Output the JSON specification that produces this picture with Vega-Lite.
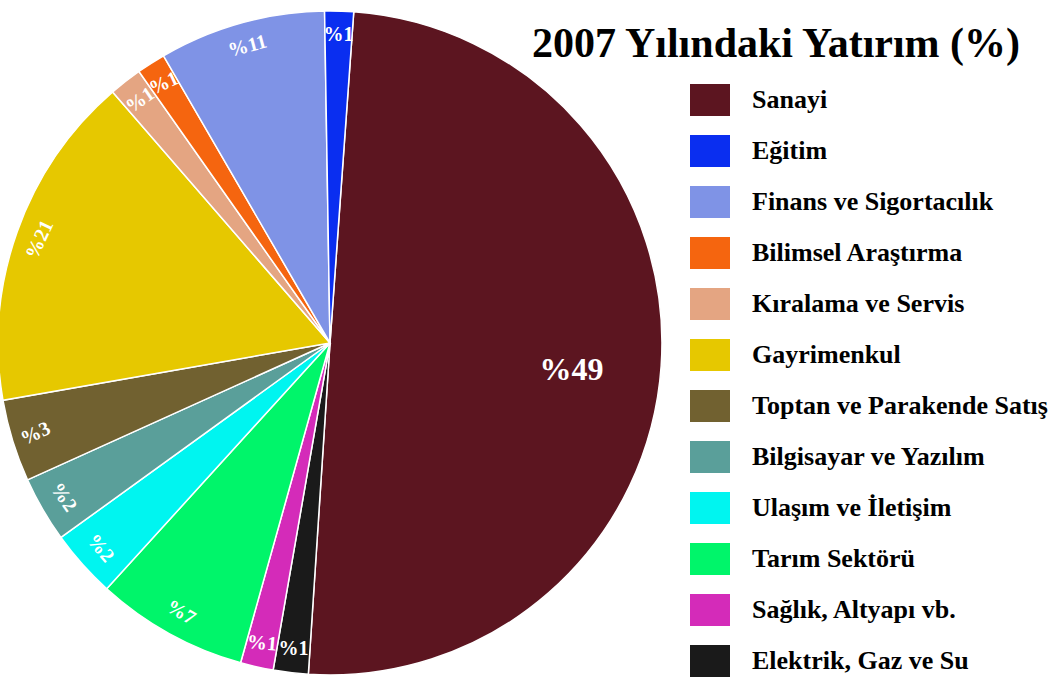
{
  "$schema": "https://vega.github.io/schema/vega-lite/v6.json",
  "width": 660,
  "height": 686,
  "autosize": {"type": "none"},
  "padding": {"left": 0, "top": 0, "right": 392, "bottom": 0},
  "background": "white",
  "view": {"stroke": null},
  "title": {
    "text": "2007 Yılındaki Yatırım (%)",
    "anchor": "start",
    "frame": "group",
    "orient": "top",
    "offset": 0,
    "dx": 532,
    "dy": 99,
    "baseline": "alphabetic",
    "font": "Liberation Serif",
    "fontSize": 42,
    "fontWeight": "bold",
    "color": "#000000"
  },
  "data": {
    "values": [
      {"sektor": "Sanayi", "pay": 49.9, "etiket": "%49", "sira": 1},
      {"sektor": "Elektrik, Gaz ve Su", "pay": 1.7, "etiket": "%1", "sira": 2},
      {"sektor": "Sağlık, Altyapı vb.", "pay": 1.6, "etiket": "%1", "sira": 3},
      {"sektor": "Tarım Sektörü", "pay": 7.4, "etiket": "%7", "sira": 4},
      {"sektor": "Ulaşım ve İletişim", "pay": 3.3, "etiket": "%2", "sira": 5},
      {"sektor": "Bilgisayar ve Yazılım", "pay": 3.2, "etiket": "%2", "sira": 6},
      {"sektor": "Toptan ve Parakende Satış", "pay": 4.0, "etiket": "%3", "sira": 7},
      {"sektor": "Gayrimenkul", "pay": 16.4, "etiket": "%21", "sira": 8},
      {"sektor": "Kıralama ve Servis", "pay": 1.6, "etiket": "%1", "sira": 9},
      {"sektor": "Bilimsel Araştırma", "pay": 1.4, "etiket": "%1", "sira": 10},
      {"sektor": "Finans ve Sigortacılık", "pay": 8.1, "etiket": "%11", "sira": 11},
      {"sektor": "Eğitim", "pay": 1.4, "etiket": "%1", "sira": 12}
    ]
  },
  "encoding": {
    "theta": {"field": "pay", "type": "quantitative", "stack": true, "scale": {"range": [0.0716, 6.3548]}},
    "order": {"field": "sira", "type": "quantitative"}
  },
  "layer": [
    {
      "mark": {"type": "arc", "outerRadius": 332, "stroke": "white", "strokeWidth": 1.5},
      "encoding": {
        "color": {
          "field": "sektor",
          "type": "nominal",
          "scale": {
            "domain": ["Sanayi", "Eğitim", "Finans ve Sigortacılık", "Bilimsel Araştırma", "Kıralama ve Servis", "Gayrimenkul", "Toptan ve Parakende Satış", "Bilgisayar ve Yazılım", "Ulaşım ve İletişim", "Tarım Sektörü", "Sağlık, Altyapı vb.", "Elektrik, Gaz ve Su"],
            "range": ["#5c1520", "#0a2ef0", "#7f93e6", "#f5650f", "#e4a582", "#e6c800", "#716130", "#5a9f9a", "#00f5f0", "#00f56a", "#d42bb9", "#1a1a1a"]
          },
          "legend": {
            "orient": "none",
            "legendX": 690,
            "legendY": 80,
            "title": null,
            "padding": 0,
            "symbolType": "M-1,-0.8H1V0.8H-1Z",
            "symbolSize": 1600,
            "symbolStrokeWidth": 0,
            "symbolOpacity": 1,
            "labelFont": "Liberation Serif",
            "labelFontSize": 26,
            "labelFontWeight": "bold",
            "labelColor": "#000000",
            "labelLimit": 400,
            "labelOffset": 22,
            "rowPadding": 15
          }
        }
      }
    },
    {
      "mark": {"type": "text", "radius": 242, "dy": 10, "font": "Liberation Serif", "fontWeight": "bold", "fontSize": 32, "fill": "white", "baseline": "middle", "align": "center"},
      "encoding": {
        "text": {"condition": {"test": "datum.sektor === 'Sanayi'", "field": "etiket"}, "value": ""}
      }
    },
    {
      "mark": {"type": "text", "radius": 308, "font": "Liberation Serif", "fontWeight": "bold", "fontSize": 20, "fill": "white", "baseline": "middle", "align": "center"},
      "encoding": {
        "text": {"condition": {"test": "datum.sektor !== 'Sanayi'", "field": "etiket"}, "value": ""},
        "angle": {
          "field": "sektor",
          "type": "nominal",
          "legend": null,
          "scale": {
            "type": "ordinal",
            "domain": ["Sanayi", "Eğitim", "Finans ve Sigortacılık", "Bilimsel Araştırma", "Kıralama ve Servis", "Gayrimenkul", "Toptan ve Parakende Satış", "Bilgisayar ve Yazılım", "Ulaşım ve İletişim", "Tarım Sektörü", "Sağlık, Altyapı vb.", "Elektrik, Gaz ve Su"],
            "range": [0, 0, -15, -25, -35, -65, -25, 55, 50, 30, 5, 0]
          }
        }
      }
    }
  ]
}
